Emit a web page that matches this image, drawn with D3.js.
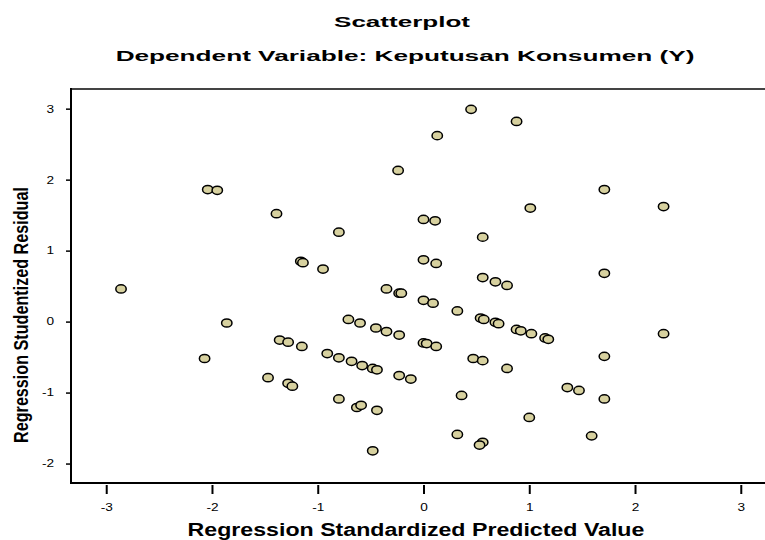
<!DOCTYPE html>
<html>
<head>
<meta charset="utf-8">
<script src="https://cdn.jsdelivr.net/npm/d3@7"></script>
<style>
  body { margin: 0; background: #fff; }
  text { font-family: "Liberation Sans", Arial, sans-serif; }
</style>
</head>
<body>
<div id="container"></div>
<script>
let w = 765;
let h = 540;

// regression standardized predicted value (x) and studentized residual (y)
let predicted = [
  -2.86, -2.04, -1.95, -1.39, -0.80, -1.16, -1.14, -0.95, 0.45, 0.88,
  0.13, -0.24, 1.71, 2.27, 1.01, 0.00, 0.11, 0.56, 0.00, 0.12,
  1.71, 0.56, 0.68, 0.79, -0.35, -0.23, -0.21, 0.00, 0.09, 0.32,
  0.54, 0.57, 0.68, 0.71, 0.88, 0.92, 1.02, 1.15, 1.18, 2.27,
  -1.86, -2.07, -0.71, -0.60, -0.45, -0.35, -0.23, -1.36, -1.28, -1.15,
  0.00, 0.03, 0.12, -0.91, -0.80, -0.68, -0.58, -0.48, -0.44, 1.71,
  0.47, 0.56, -0.23, -0.12, 0.79, -1.47, -1.28, -1.24, 1.36, 1.47,
  0.36, 1.71, -0.80, -0.63, -0.59, -0.44, 1.00, 0.32, 0.56, 0.53,
  1.59, -0.48
];
let residual = [
  0.46, 1.86, 1.85, 1.52, 1.26, 0.85, 0.83, 0.74, 2.99, 2.82,
  2.62, 2.13, 1.86, 1.62, 1.60, 1.44, 1.42, 1.19, 0.87, 0.82,
  0.68, 0.62, 0.56, 0.51, 0.46, 0.40, 0.40, 0.30, 0.26, 0.15,
  0.05, 0.03, -0.01, -0.03, -0.11, -0.13, -0.17, -0.23, -0.25, -0.17,
  -0.02, -0.52, 0.03, -0.02, -0.09, -0.14, -0.19, -0.26, -0.29, -0.35,
  -0.30, -0.31, -0.35, -0.45, -0.51, -0.56, -0.62, -0.66, -0.68, -0.49,
  -0.52, -0.55, -0.76, -0.81, -0.66, -0.79, -0.87, -0.91, -0.93, -0.97,
  -1.04, -1.09, -1.09, -1.21, -1.18, -1.25, -1.35, -1.59, -1.70, -1.74,
  -1.61, -1.82
];
let xTicks = [-3, -2, -1, 0, 1, 2, 3];
let yTicks = [-2, -1, 0, 1, 2, 3];

let chartTitle = "Scatterplot";
let chartSubtitle = "Dependent Variable: Keputusan Konsumen (Y)";
let xLabel = "Regression Standardized Predicted Value";
let yLabel = "Regression Studentized Residual";

let plotLeft = 71;
let plotRight = 776;
let plotTop = 89;
let plotBottom = 483;
let stretch = 1.3;

let viz = d3.select("#container")
  .append("svg")
    .attr("width", w)
    .attr("height", h)
;

let xScale = d3.scaleLinear().domain([-3.333, 3.333]).range([plotLeft, plotRight]);
let yScale = d3.scaleLinear().domain([-2.274, 3.277]).range([plotBottom, plotTop]);

// the picture is stretched sideways, so squeeze text to the measured width
function fitText(txt, cx, baseline, size, width){
  let t = viz.append("text")
    .text(txt)
    .attr("text-anchor", "middle")
    .attr("font-size", size)
    .attr("font-weight", "bold")
  ;
  let natural = t.node().getComputedTextLength();
  t.attr("transform", "translate(" + cx + "," + baseline + ") scale(" + (width / natural) + ",1)");
  return t;
}

fitText(chartTitle, 402, 27, 14, 136);
fitText(chartSubtitle, 405, 61, 14, 579);

// frame: top edge is grey, left + bottom are the axes
viz.append("line")
  .attr("x1", plotLeft).attr("x2", w)
  .attr("y1", plotTop).attr("y2", plotTop)
  .attr("stroke", "#444")
  .attr("stroke-width", 2)
;

function tickFmt(d){ return String(d); }

let xAxis = d3.axisBottom(xScale).tickValues(xTicks).tickFormat(tickFmt)
  .tickSizeInner(9).tickSizeOuter(0).tickPadding(10);
let xAxisGroup = viz.append("g").attr("class", "xaxis")
  .attr("transform", "translate(0," + (plotBottom + 2) + ")")
  .call(xAxis);
xAxisGroup.select(".domain").remove();
xAxisGroup.selectAll(".tick line").attr("stroke", "#000").attr("stroke-width", 2);
xAxisGroup.selectAll(".tick text")
  .attr("font-size", 10.5)
  .attr("font-family", "'Liberation Sans', Arial, sans-serif")
  .attr("fill", "#000")
  .attr("transform", "scale(" + stretch + ",1)")
;

let yAxis = d3.axisLeft(yScale).tickValues(yTicks).tickFormat(tickFmt)
  .tickSizeInner(5).tickSizeOuter(0).tickPadding(8);
let yAxisGroup = viz.append("g").attr("class", "yaxis")
  .attr("transform", "translate(" + plotLeft + ",0)")
  .call(yAxis);
yAxisGroup.select(".domain").remove();
yAxisGroup.selectAll(".tick line").attr("stroke", "#000").attr("stroke-width", 1.5);
yAxisGroup.selectAll(".tick text")
  .attr("font-size", 10.5)
  .attr("font-family", "'Liberation Sans', Arial, sans-serif")
  .attr("fill", "#000")
  .attr("transform", "scale(" + stretch + ",1)")
;

viz.append("line")
  .attr("x1", plotLeft).attr("x2", plotLeft)
  .attr("y1", plotTop - 1).attr("y2", plotBottom + 1)
  .attr("stroke", "#000")
  .attr("stroke-width", 2)
;
viz.append("line")
  .attr("x1", plotLeft - 1).attr("x2", w)
  .attr("y1", plotBottom).attr("y2", plotBottom)
  .attr("stroke", "#000")
  .attr("stroke-width", 2)
;

// axis titles
fitText(xLabel, 416, 536, 18, 457);

let yTitle = viz.append("text")
  .text(yLabel)
  .attr("text-anchor", "middle")
  .attr("font-size", 16)
  .attr("font-weight", "bold")
;
let yNatural = yTitle.node().getComputedTextLength();
yTitle.attr("transform", "translate(28,315) scale(1.25," + (256 / yNatural) + ") rotate(-90)");

// points
let points = predicted.map(function(d, i){
  return {x: d, y: residual[i]};
});

viz.append("g").attr("class", "points")
  .selectAll("ellipse")
  .data(points)
  .enter()
  .append("ellipse")
    .attr("cx", function(d){ return xScale(d.x); })
    .attr("cy", function(d){ return yScale(d.y); })
    .attr("rx", 5.2)
    .attr("ry", 4.1)
    .attr("fill", "#d7d19f")
    .attr("stroke", "#000")
    .attr("stroke-width", 1.5)
;
</script>
</body>
</html>
